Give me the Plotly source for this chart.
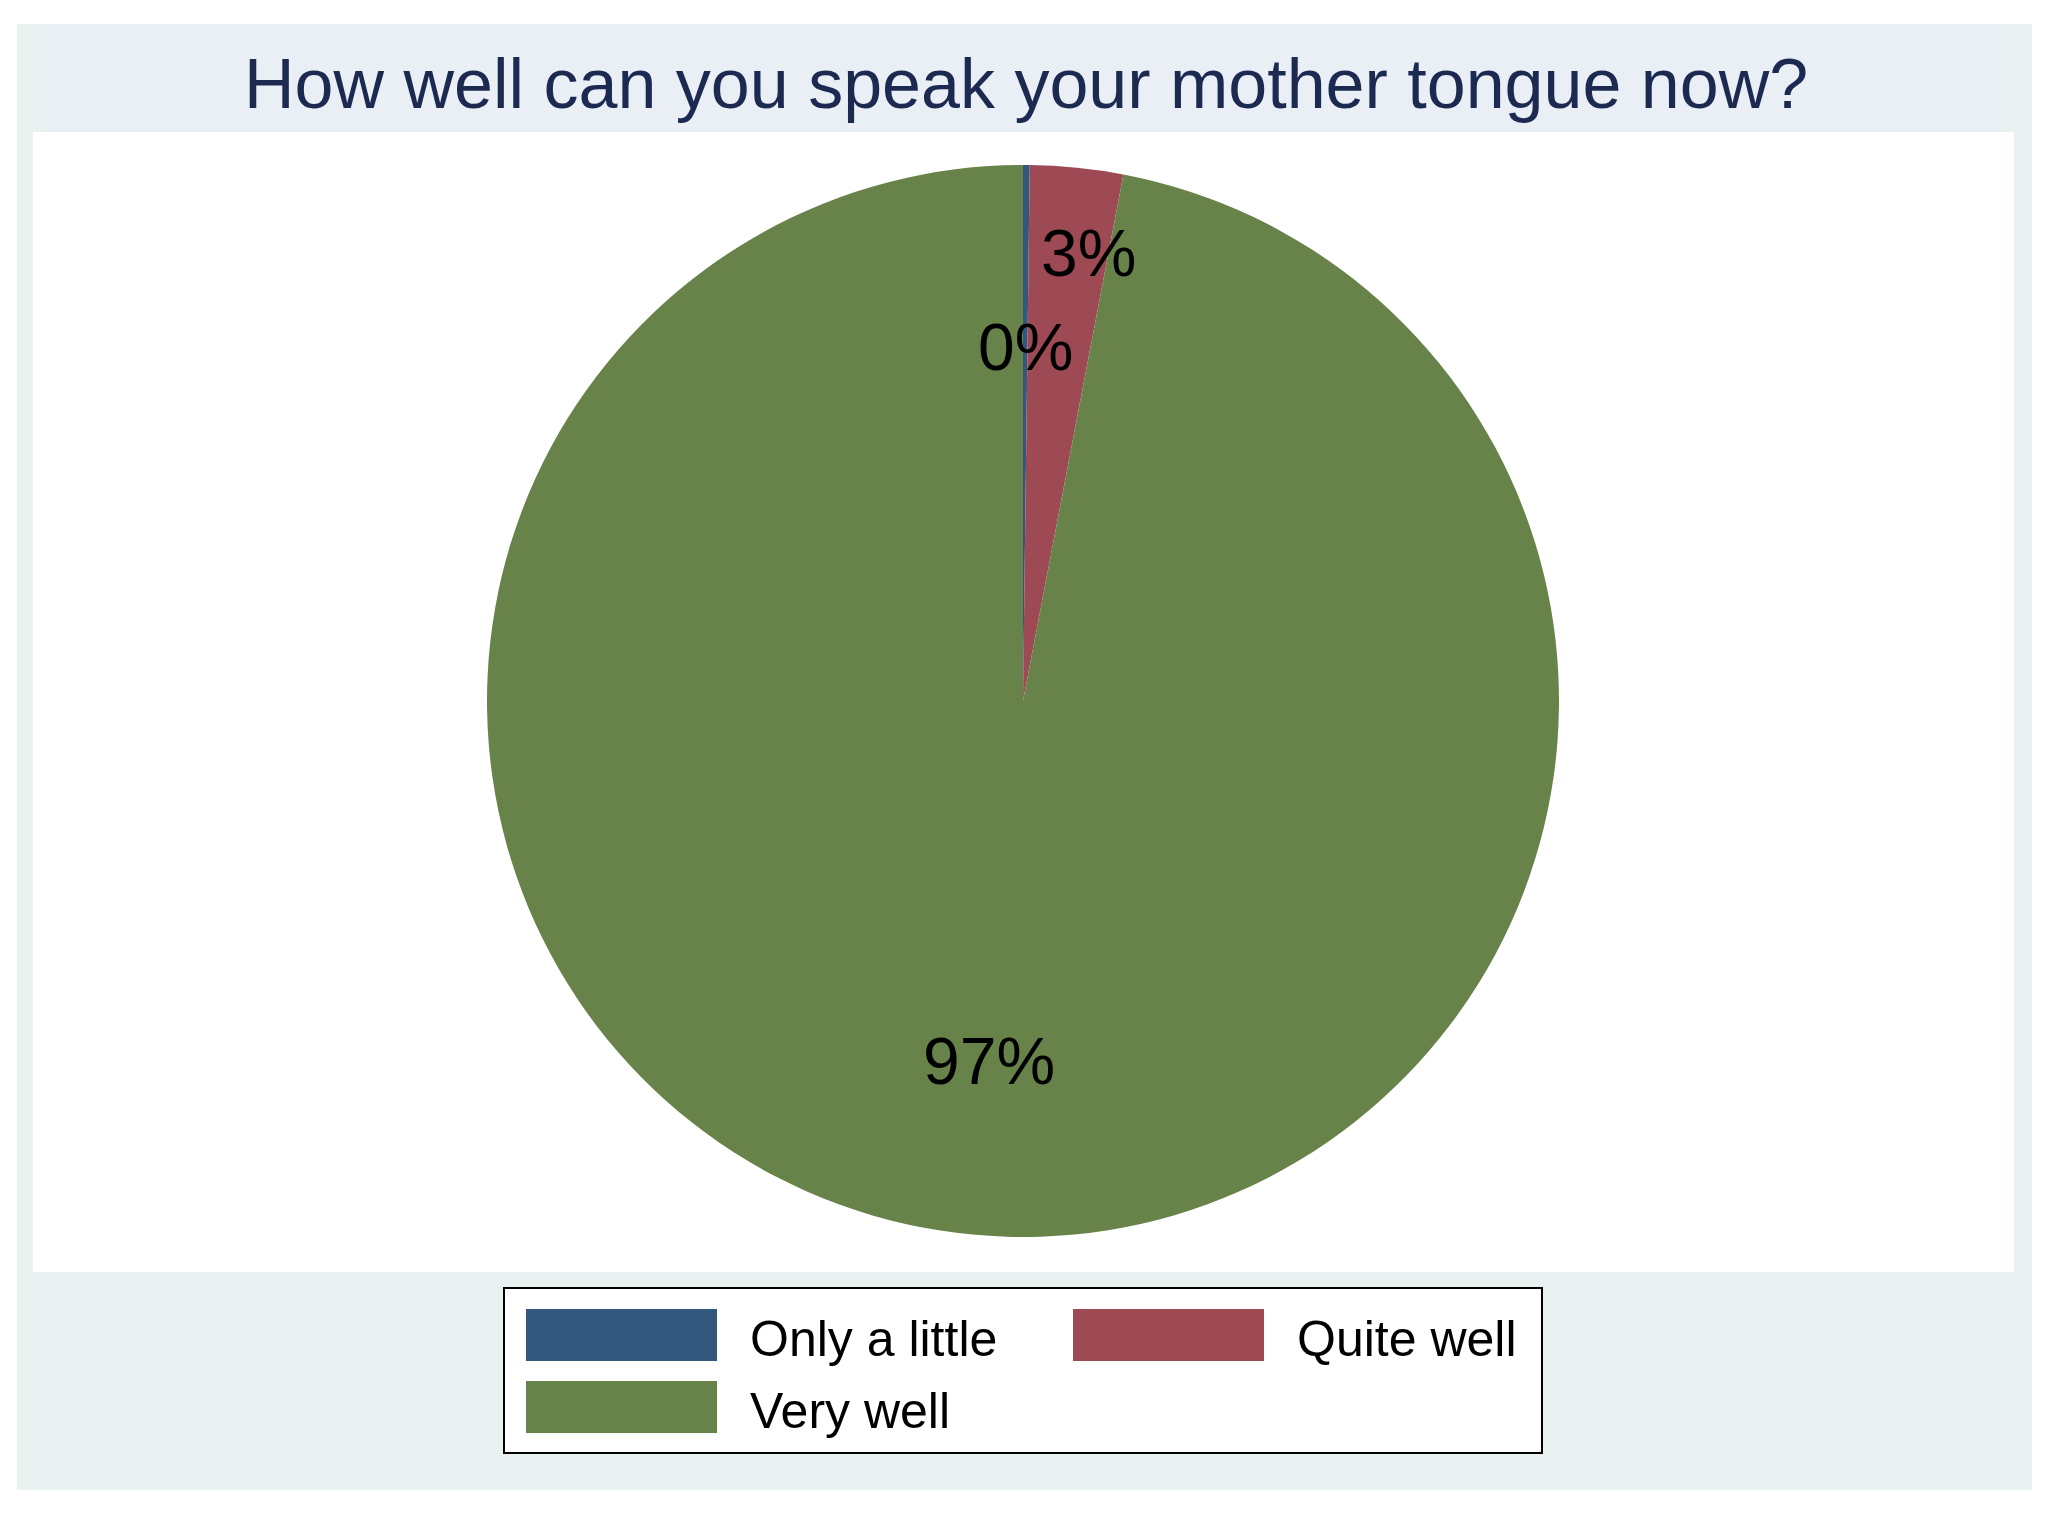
import math

import plotly.graph_objects as go

# data
labels = ["Only a little", "Quite well", "Very well"]
values = [0.2, 2.8, 97.0]
colors = ["#33587d", "#9d4a54", "#68834a"]
title_text = "How well can you speak your mother tongue now?"

# style / layout (pixels in a 2048 x 1536 canvas)
W, H = 2048, 1536
CX, CY, R = 1023, 701, 536
label_radius = [0.66, 0.845, 0.675]
label_shift_deg = [0.0, 2.5, 0.0]
FONT = "Liberation Sans, Arial, sans-serif"


def px(x):
    return x / W


def py(y):
    return 1 - y / H


fig = go.Figure()
fig.add_trace(
    go.Pie(
        labels=labels,
        values=values,
        sort=False,
        direction="clockwise",
        rotation=0,
        marker=dict(colors=colors, line=dict(width=0)),
        textinfo="none",
        hoverinfo="label+percent",
        showlegend=False,
        domain=dict(x=[px(CX - R), px(CX + R)], y=[py(CY + R), py(CY - R)]),
    )
)

# percentage labels placed at the middle angle of each slice
total = sum(values)
annotations = []
cum = 0.0
for v, f, shift in zip(values, label_radius, label_shift_deg):
    mid = (cum + v / 2) / total * 360 + shift
    cum += v
    th = math.radians(mid)
    annotations.append(
        dict(
            x=px(CX + f * R * math.sin(th)),
            y=py(CY - f * R * math.cos(th)),
            xref="paper",
            yref="paper",
            text=f"{v / total:.0%}",
            showarrow=False,
            font=dict(family=FONT, size=66, color="black"),
            xanchor="center",
            yanchor="middle",
        )
    )

annotations.append(
    dict(
        x=px(1026),
        y=py(84),
        xref="paper",
        yref="paper",
        text=title_text,
        showarrow=False,
        font=dict(family=FONT, size=70, color="#1c2a52"),
        xanchor="center",
        yanchor="middle",
    )
)

shapes = [
    dict(type="rect", xref="paper", yref="paper", x0=px(17), x1=px(2032), y0=py(1490), y1=py(24),
         fillcolor="#e9f1f1", line=dict(width=0), layer="below"),
    dict(type="rect", xref="paper", yref="paper", x0=px(47), x1=px(2002), y0=py(132), y1=py(24),
         fillcolor="#e9eff5", line=dict(width=0), layer="below"),
    dict(type="rect", xref="paper", yref="paper", x0=px(33), x1=px(2014), y0=py(1272), y1=py(132),
         fillcolor="#ffffff", line=dict(width=0), layer="below"),
    # legend frame
    dict(type="rect", xref="paper", yref="paper", x0=px(504), x1=px(1542), y0=py(1453), y1=py(1288),
         fillcolor="#ffffff", line=dict(width=2, color="black"), layer="below"),
]

# legend entries, two columns
col_x = [526, 1073]
row_y = [1335, 1407]
for i, (lab, col) in enumerate(zip(labels, colors)):
    cx0 = col_x[i % 2]
    ry = row_y[i // 2]
    shapes.append(
        dict(type="rect", xref="paper", yref="paper", x0=px(cx0), x1=px(cx0 + 191),
             y0=py(ry + 26), y1=py(ry - 26), fillcolor=col, line=dict(width=0))
    )
    annotations.append(
        dict(
            x=px(cx0 + 222),
            y=py(ry + 4),
            xref="paper",
            yref="paper",
            text=lab,
            showarrow=False,
            font=dict(family=FONT, size=50, color="black"),
            xanchor="left",
            yanchor="middle",
        )
    )

fig.update_layout(
    width=W,
    height=H,
    autosize=False,
    margin=dict(l=0, r=0, t=0, b=0),
    paper_bgcolor="white",
    plot_bgcolor="white",
    shapes=shapes,
    annotations=annotations,
)

fig.write_html(
    "out.html",
    config={"displayModeBar": False},
    post_script="document.body.style.margin = '0';",
)
